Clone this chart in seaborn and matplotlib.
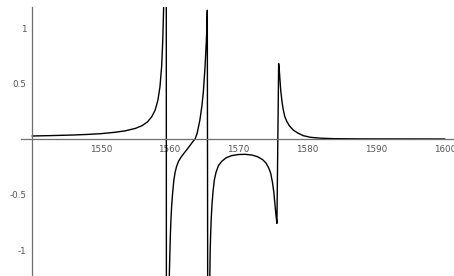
import matplotlib
matplotlib.use("Agg")
import matplotlib.pyplot as plt
import seaborn as sns
import pandas as pd

# wavelength (x) and response (y)
wl = [1540, 1543, 1546, 1548, 1550, 1552, 1553.5, 1555, 1556, 1556.8, 1557.4, 1557.9,
      1558.3, 1558.6, 1558.85, 1559.0, 1559.12, 1559.2, 1559.5,
      1559.55, 1559.85, 1559.97, 1560.05, 1560.12, 1560.2, 1560.3, 1560.45, 1560.6,
      1560.8, 1561.0, 1561.3, 1561.7, 1562.2, 1562.7, 1563.3, 1563.7, 1564.0, 1564.4,
      1564.7, 1564.9, 1565.15, 1565.3, 1565.4, 1565.48,
      1565.62, 1565.75, 1565.85, 1565.9, 1565.97, 1566.05, 1566.15, 1566.3, 1566.5,
      1566.75, 1567.1, 1567.6, 1568.2, 1569.0, 1570.0, 1571.0, 1572.0, 1572.8, 1573.5,
      1574.0, 1574.4, 1574.7, 1574.95, 1575.15, 1575.3, 1575.45, 1575.6,
      1575.85, 1575.92, 1576.0, 1576.15, 1576.35, 1576.53, 1576.75, 1577.02, 1577.4,
      1577.98, 1578.6, 1579.43, 1580.5, 1582, 1584, 1588, 1600]
resp = [0.027, 0.031, 0.036, 0.041, 0.048, 0.06, 0.073, 0.095, 0.12, 0.155, 0.2, 0.26,
        0.35, 0.47, 0.66, 0.88, 1.15, 1.4, 5.0,
        -5.0, -1.8, -1.2, -1.0, -0.85, -0.72, -0.6, -0.48, -0.38,
        -0.3, -0.25, -0.2, -0.16, -0.12, -0.08, -0.03, 0.0, 0.05, 0.17,
        0.3, 0.42, 0.65, 0.83, 0.97, 1.16,
        -5.0, -1.8, -1.23, -1.0, -0.85, -0.72, -0.6, -0.48, -0.37,
        -0.3, -0.24, -0.2, -0.17, -0.15, -0.14, -0.138, -0.145, -0.16, -0.185,
        -0.215, -0.26, -0.31, -0.39, -0.48, -0.58, -0.68, -0.76,
        0.68, 0.64, 0.57, 0.44, 0.33, 0.26, 0.2, 0.16, 0.12,
        0.08, 0.055, 0.03, 0.015, 0.007, 0.003, 0.001, 0.0]

x_major = [1550, 1560, 1570, 1580, 1590, 1600]
x_major_labels = ["1550", "1560", "1570", "1580", "1590", "1600"]
x_minor = [1542, 1544, 1546, 1548, 1552, 1554, 1556, 1558, 1562, 1564, 1566, 1568,
           1572, 1574, 1576, 1578, 1582, 1584, 1586, 1588, 1592, 1594, 1596, 1598]
y_major = [-1, -0.5, 0.5, 1]
y_major_labels = ["-1", "-0.5", "0.5", "1"]
y_minor = [-1.2, -1.1, -0.9, -0.8, -0.7, -0.6, -0.4, -0.3, -0.2, -0.1,
           0.1, 0.2, 0.3, 0.4, 0.6, 0.7, 0.8, 0.9, 1.1]

df = pd.DataFrame({"wl": wl, "resp": resp})

sns.set_style("white")
plt.rcParams["font.family"] = ["DejaVu Sans"]
plt.rcParams["axes.unicode_minus"] = False

W, H = 454, 276
fig = plt.figure(figsize=(W / 100, H / 100), dpi=100)
ax = fig.add_axes([0, 0, 1, (H - 7) / H])

sns.lineplot(data=df, x="wl", y="resp", sort=False, estimator=None,
             color="black", linewidth=1.0, ax=ax)

ax.set_xlim(1540 - 32 / 6.88, 1540 + (W - 32) / 6.88)
ax.set_ylim(-(H - 139) / 111, 132 / 111)

axcol = "#6e6e6e"
for s in ["top", "right"]:
    ax.spines[s].set_visible(False)
ax.spines["left"].set_position(("data", 1540))
ax.spines["bottom"].set_position(("data", 0))
ax.spines["bottom"].set_bounds(1540 - 11.3 / 6.88, 1540 + 421 / 6.88)
ax.spines["left"].set_bounds(-(H - 139) / 111, 132 / 111)
for s in ["left", "bottom"]:
    ax.spines[s].set_color(axcol)
    ax.spines[s].set_linewidth(0.9)

ax.set_xticks(x_major, labels=x_major_labels)
ax.set_xticks(x_minor, minor=True)
ax.set_yticks(y_major, labels=y_major_labels)
ax.set_yticks(y_minor, minor=True)

ax.tick_params(axis="both", which="major", direction="in", length=2.6, width=0.8,
               color=axcol, labelsize=6.3, labelcolor="#555555")
ax.tick_params(axis="both", which="minor", direction="in", length=1.7, width=0.7,
               color=axcol)
ax.tick_params(axis="x", which="major", pad=4)
ax.tick_params(axis="y", which="major", pad=4)
ax.set_xlabel("")
ax.set_ylabel("")
ax.grid(False)

fig.savefig("out.png", dpi=100)
